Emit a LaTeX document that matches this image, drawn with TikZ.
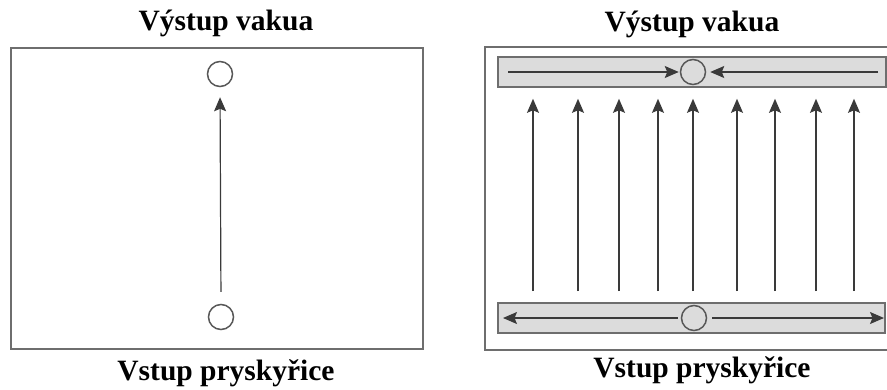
\documentclass[tikz,border=0pt]{standalone}
\usepackage{fontspec}
\setmainfont{Liberation Serif}
\usetikzlibrary{arrows.meta}
\definecolor{frame}{HTML}{6E6E6E}
\definecolor{barfill}{HTML}{DCDCDC}
\definecolor{ink}{HTML}{3A3A3A}
\tikzset{
  panel/.style={draw=frame, line width=1.6pt, fill=white},
  bar/.style={draw=frame, line width=1.6pt, fill=barfill, inner sep=0pt},
  port/.style={circle, draw=ink!85, line width=1.5pt, inner sep=0pt, minimum size=25pt},
  flow/.style={draw=ink, line width=1.2pt, -{Stealth[length=14pt,width=12pt,inset=2.5pt]}},
  caption/.style={font=\bfseries\fontsize{29.5}{32}\selectfont, anchor=base, inner sep=0pt}
}
\begin{document}
\begin{tikzpicture}[x=1pt, y=-1pt]
\clip (0,0) rectangle (887,389);
\fill[white] (0,0) rectangle (887,389);

% ---- single inlet / outlet layout ----
\draw[panel] (11,48) rectangle (423,349);
\node[caption] (ltitle) at (226,30) {Výstup vakua};
\node[caption] (lcaption) at (226,380) {Vstup pryskyřice};
\node[port, fill=white] (lout) at (220,74) {};
\node[port, fill=white] (lin) at (221,317) {};
\draw[flow, shorten <=12pt, shorten >=10pt] (lin.north) -- (lout.south);

% ---- distribution channel layout ----
\draw[panel] (485,47) rectangle (892,350);
\node[caption] (rtitle) at (692,31) {Výstup vakua};
\node[caption] (rcaption) at (702,377) {Vstup pryskyřice};

\node[bar, minimum width=388pt, minimum height=30pt] (tbar) at (692,72) {};
\node[bar, minimum width=387pt, minimum height=30pt] (bbar) at (691.5,318) {};
\node[port, fill=barfill] (rout) at (693,72) {};
\node[port, fill=barfill] (rin) at (694,318) {};

% channel flows along the bars
\coordinate (tl) at (508,72);
\coordinate (tr) at (878,72);
\coordinate (bl) at (503,318);
\coordinate (br) at (884,318);
\draw[flow, shorten >=1pt] (tl) -- (rout.west);
\draw[flow, shorten >=4pt] (tr) -- (rout.east);
\draw[flow, shorten <=3pt] (rin.west) -- (bl);
\draw[flow, shorten <=5pt] (rin.east) -- (br);

% resin fronts moving across the part
\foreach \i/\x in {1/533,2/578,3/619,4/658,5/693,6/737,7/775,8/816,9/854}{
  \coordinate (c\i) at (\x,200);
  \draw[flow, shorten <=11pt, shorten >=11pt] (c\i |- bbar.north) -- (c\i |- tbar.south);
}
\end{tikzpicture}
\end{document}
